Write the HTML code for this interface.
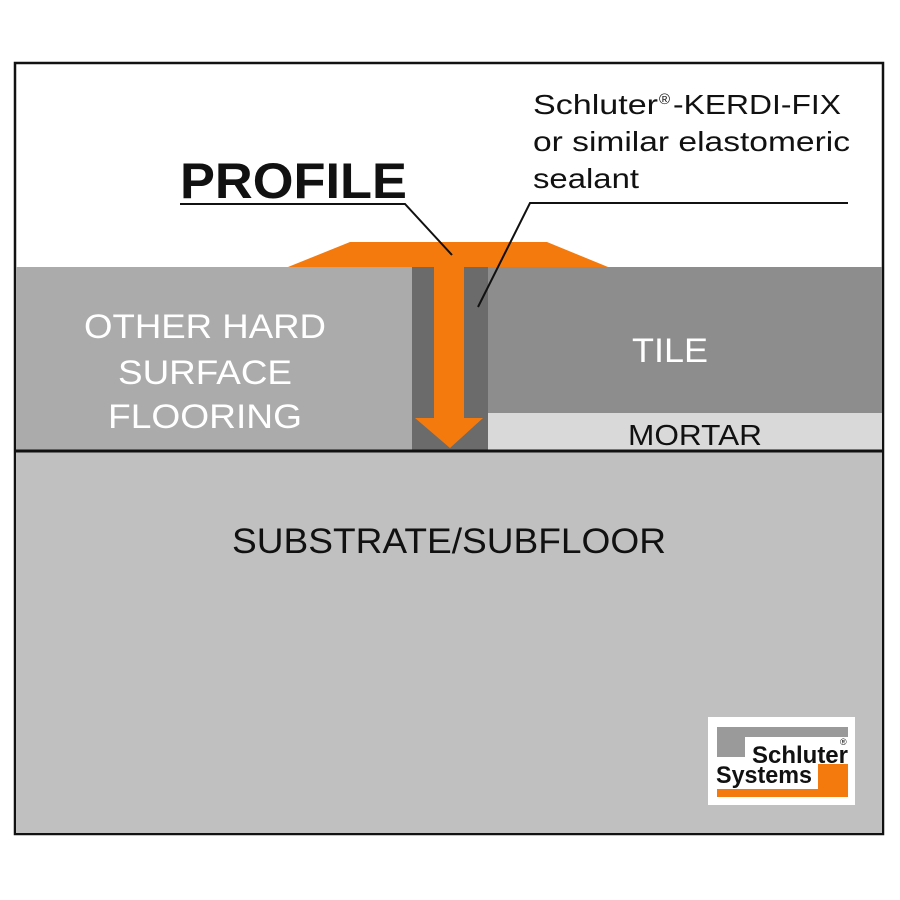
<!DOCTYPE html>
<html><head><style>body{margin:0;background:#fff}svg{display:block}</style></head><body>
<svg width="900" height="900" viewBox="0 0 900 900" font-family="Liberation Sans, sans-serif">
<rect x="0" y="0" width="900" height="900" fill="#fff"/>
<rect x="15" y="63" width="868" height="771" fill="#fff" stroke="#111" stroke-width="2.5"/>
<rect x="16" y="451" width="866" height="382" fill="#c0c0c0"/>
<rect x="16" y="267" width="396" height="184" fill="#ababab"/>
<rect x="412" y="267" width="76" height="184" fill="#6b6b6b"/>
<rect x="488" y="267" width="394" height="146" fill="#8d8d8d"/>
<rect x="488" y="413" width="394" height="38" fill="#d9d9d9"/>
<line x1="15" y1="451" x2="883" y2="451" stroke="#111" stroke-width="3"/>
<polygon points="350,242 547,242 608,267 464,267 464,418 483,418 450,448 415,418 434,418 434,267 288,267" fill="#f47a0e"/>
<text x="180" y="198" font-size="50" font-weight="bold" fill="#111" textLength="227" lengthAdjust="spacingAndGlyphs">PROFILE</text>
<polyline points="180,204 405,204 452,255" fill="none" stroke="#111" stroke-width="2"/>
<text x="533" y="114" font-size="28" fill="#111" textLength="125" lengthAdjust="spacingAndGlyphs">Schluter</text>
<text x="659" y="104" font-size="15" fill="#111">®</text>
<text x="673" y="114" font-size="28" fill="#111" textLength="168" lengthAdjust="spacingAndGlyphs">-KERDI-FIX</text>
<text x="533" y="151" font-size="28" fill="#111" textLength="317" lengthAdjust="spacingAndGlyphs">or similar elastomeric</text>
<text x="533" y="188" font-size="28" fill="#111" textLength="106" lengthAdjust="spacingAndGlyphs">sealant</text>
<polyline points="848,203 530,203 478,307" fill="none" stroke="#111" stroke-width="2"/>
<g font-size="34" fill="#fff">
<text x="84" y="338" textLength="242" lengthAdjust="spacingAndGlyphs">OTHER HARD</text>
<text x="118" y="384" textLength="174" lengthAdjust="spacingAndGlyphs">SURFACE</text>
<text x="108" y="428" textLength="194" lengthAdjust="spacingAndGlyphs">FLOORING</text>
<text x="632" y="362" textLength="76" lengthAdjust="spacingAndGlyphs">TILE</text>
</g>
<text x="628" y="445" font-size="29" fill="#111" textLength="134" lengthAdjust="spacingAndGlyphs">MORTAR</text>
<text x="232" y="553" font-size="35" fill="#111" textLength="434" lengthAdjust="spacingAndGlyphs">SUBSTRATE/SUBFLOOR</text>
<rect x="708" y="717" width="147" height="88" fill="#fff"/>
<polygon points="717,727 848,727 848,737 745,737 745,757 717,757" fill="#9a9a9a"/>
<polygon points="818,764 848,764 848,797 717,797 717,789 818,789" fill="#f47a0e"/>
<text x="752" y="763" font-size="24" font-weight="bold" fill="#111" textLength="96" lengthAdjust="spacingAndGlyphs">Schluter</text>
<text x="716" y="783" font-size="24" font-weight="bold" fill="#111" textLength="96" lengthAdjust="spacingAndGlyphs">Systems</text>
<text x="840" y="745" font-size="9" fill="#111">®</text>
</svg>
</body></html>
